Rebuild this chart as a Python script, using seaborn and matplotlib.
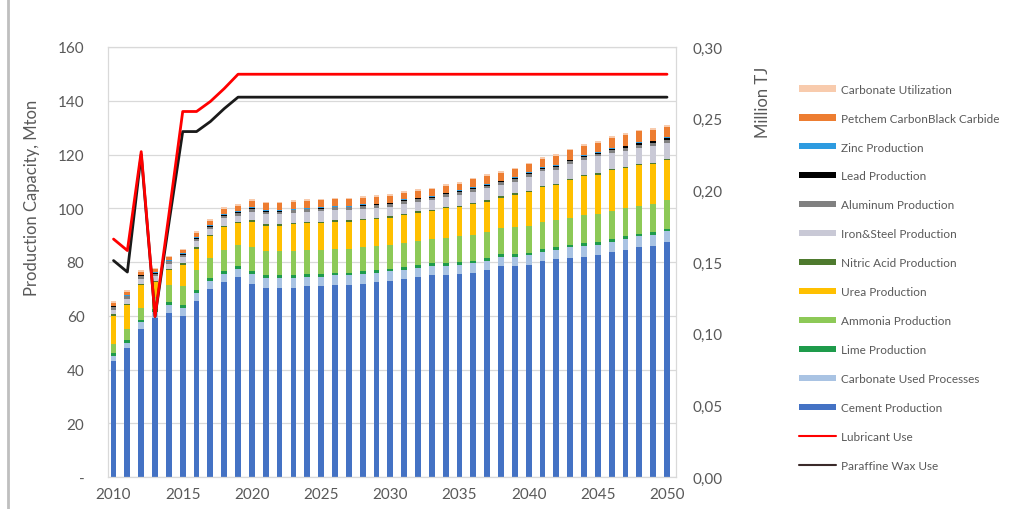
import numpy as np
import matplotlib
matplotlib.use("Agg")
import matplotlib.pyplot as plt
import seaborn as sns
from matplotlib.patches import Patch
from matplotlib.lines import Line2D
from matplotlib.ticker import FuncFormatter, MultipleLocator

# ============================
# DATA
# ============================
years = list(range(2010, 2051))

# stacked bars (Mton), bottom -> top
cement = [43, 48, 55, 59, 61, 60, 65.5, 70, 72.5, 74.5,
          72, 70.5, 70.5, 70.5, 71, 71, 71.5, 71.5, 72, 72.5,
          73, 73.5, 74.4, 75, 75, 75.5, 76, 77, 78.5, 78.5,
          79, 80.3, 81, 81.5, 82, 82.5, 83.6, 84.5, 85.5, 86, 87.4]
carbonate_used = [2, 2, 2.5, 2.5, 3, 3, 3, 3, 3, 3,
                  3.5, 3.5, 3.5, 3.5, 3.5, 3.5, 3.5, 3.5, 3.5, 3.5,
                  3.5, 3.5, 3.5, 3.5, 3.5, 3.5, 3.5, 3.5, 3.5, 3.5,
                  3.5, 3.5, 3.5, 4, 4, 4, 4, 4, 4, 4, 4]
lime = [1, 1, 1, 1, 1, 1, 1, 1, 1, 1,
        1, 1, 1, 1, 1, 1, 1, 1, 1, 1,
        1, 1, 1, 1, 1, 1, 1, 1, 1, 1,
        1, 1, 1, 1, 1, 1, 1, 1, 1, 1, 1]
ammonia = [3.5, 4, 4.5, 4.5, 6.5, 7, 7.5, 7.5, 8, 8,
           9, 9, 9, 9, 9, 9, 9, 9, 9, 9,
           9, 9, 9, 9, 9.5, 9.5, 9.5, 9.5, 9.5, 10,
           10, 10, 10, 10, 10.5, 10.5, 10.5, 10.5, 10.5, 10.5, 10.5]
urea = [10.5, 9, 8.5, 5.5, 5.5, 8, 8, 8, 8.5, 8,
        9.5, 9.5, 9.5, 10, 10, 10, 10, 10, 10, 10,
        10, 10.5, 10.5, 10.5, 11, 11, 11.5, 11.5, 11.5, 12,
        12.5, 13, 13, 14, 14.5, 14.5, 15, 15, 15, 15, 15]
nitric_acid = [0.5, 0.5, 0.5, 0.5, 0.5, 0.5, 0.5, 0.5, 0.5, 0.5,
               0.5, 0.5, 0.5, 0.5, 0.5, 0.5, 0.5, 0.5, 0.5, 0.5,
               0.5, 0.5, 0.5, 0.5, 0.5, 0.5, 0.5, 0.5, 0.5, 0.5,
               0.5, 0.5, 0.5, 0.5, 0.5, 0.5, 0.5, 0.5, 0.5, 0.5, 0.5]
iron_steel = [1.7, 1.7, 1.7, 1.7, 1.7, 2.2, 2.2, 2.2, 2.7, 2.2,
              3.2, 3.7, 3.7, 3.7, 3.6, 3.9, 3.8, 3.8, 3.9, 3.6,
              3.5, 3.7, 3.5, 3.5, 3.7, 4.1, 4.2, 4.4, 4.2, 4.4,
              5.3, 5.4, 5.4, 5.5, 5.6, 6.3, 6.1, 5.8, 6.1, 6.2, 6]
aluminum = [1, 1, 1, 1, 1, 1, 1, 1, 1, 1,
            1, 1, 1, 1, 1, 1, 1, 1, 1, 1,
            1, 1, 1, 1, 1, 1, 1, 1, 1, 1,
            1, 1, 1, 1, 1, 1, 1, 1, 1, 1, 1]
lead = [0.3, 0.3, 0.3, 0.3, 0.3, 0.3, 0.3, 0.3, 0.3, 0.3,
        0.3, 0.3, 0.3, 0.3, 0.3, 0.3, 0.3, 0.3, 0.3, 0.3,
        0.3, 0.3, 0.3, 0.3, 0.3, 0.3, 0.3, 0.3, 0.3, 0.3,
        0.3, 0.3, 0.3, 0.3, 0.3, 0.3, 0.3, 0.7, 0.7, 0.7, 0.7]
zinc = [0.3, 0.3, 0.3, 0.3, 0.3, 0.3, 0.3, 0.3, 0.3, 0.3,
        0.3, 0.3, 0.3, 0.3, 0.3, 0.3, 0.3, 0.3, 0.3, 0.3,
        0.3, 0.3, 0.3, 0.3, 0.3, 0.3, 0.3, 0.3, 0.3, 0.3,
        0.3, 0.3, 0.3, 0.3, 0.3, 0.3, 0.3, 0.3, 0.3, 0.3, 0.3]
petchem = [1, 1, 1, 1, 1, 1, 1.5, 1.5, 2, 2,
           2.5, 2.5, 2.5, 2.5, 2.5, 2.5, 2.5, 2.5, 2.5, 2.5,
           2.5, 2.5, 2.5, 2.5, 2.5, 2.5, 3, 3, 3, 3,
           3, 3, 3.5, 3.5, 3.5, 3.5, 4, 4, 4, 4, 4]
carbonate_util = [0.6, 0.6, 0.6, 0.6, 0.6, 0.6, 0.6, 0.6, 0.6, 0.6,
                  0.6, 0.6, 0.6, 0.6, 0.6, 0.6, 0.6, 0.6, 0.6, 0.6,
                  0.6, 0.6, 0.6, 0.6, 0.6, 0.6, 0.6, 0.6, 0.6, 0.6,
                  0.6, 0.6, 0.6, 0.6, 0.6, 0.6, 0.6, 0.6, 0.6, 0.6, 0.6]

# lines (Million TJ, right axis)
lubricant = [0.166, 0.158, 0.227, 0.112, 0.183, 0.255, 0.255, 0.262, 0.271, 0.281,
             0.281, 0.281, 0.281, 0.281, 0.281, 0.281, 0.281, 0.281, 0.281, 0.281,
             0.281, 0.281, 0.281, 0.281, 0.281, 0.281, 0.281, 0.281, 0.281, 0.281,
             0.281, 0.281, 0.281, 0.281, 0.281, 0.281, 0.281, 0.281, 0.281, 0.281, 0.281]
paraffine = [0.151, 0.143, 0.225, 0.112, 0.177, 0.241, 0.241, 0.248, 0.257, 0.265,
             0.265, 0.265, 0.265, 0.265, 0.265, 0.265, 0.265, 0.265, 0.265, 0.265,
             0.265, 0.265, 0.265, 0.265, 0.265, 0.265, 0.265, 0.265, 0.265, 0.265,
             0.265, 0.265, 0.265, 0.265, 0.265, 0.265, 0.265, 0.265, 0.265, 0.265, 0.265]

layers = [cement, carbonate_used, lime, ammonia, urea, nitric_acid,
          iron_steel, aluminum, lead, zinc, petchem, carbonate_util]
labels = ["Cement Production", "Carbonate Used Processes", "Lime Production",
          "Ammonia Production", "Urea Production", "Nitric Acid Production",
          "Iron&Steel Production", "Aluminum Production", "Lead Production",
          "Zinc Production", "Petchem CarbonBlack Carbide", "Carbonate Utilization"]
colors = ["#4472C4", "#A9C3E3", "#1E9B4B", "#8DC957", "#FFC000", "#4E7A2E",
          "#C9C9D6", "#808080", "#000000", "#2E9BE0", "#ED7D31", "#F8CBAD"]

# ============================
# FIGURE
# ============================
sns.set_style("white")
plt.rcParams["font.family"] = ["Lato", "DejaVu Sans"]
grey = "#595959"

fig = plt.figure(figsize=(10.31, 5.10), dpi=100)
ax = fig.add_axes([108 / 1031, 1 - 478 / 510, 568 / 1031, 430 / 510])

# stacked bars: draw cumulative totals from top down
cum = np.cumsum(np.array(layers, dtype=float), axis=0)
for i in range(len(layers) - 1, -1, -1):
    sns.barplot(x=years, y=cum[i], native_scale=True, color=colors[i],
                saturation=1, width=0.42, linewidth=0, errorbar=None, ax=ax)

ax.set_xlim(2009.6, 2050.65)
ax.set_ylim(0, 160)
ax.yaxis.set_major_locator(MultipleLocator(20))
ax.set_xticks(range(2010, 2051, 5))
ax.yaxis.set_major_formatter(FuncFormatter(lambda v, p: "-" if v == 0 else f"{v:.0f}"))
ax.grid(axis="y", color="#D9D9D9", linewidth=0.9)
ax.set_axisbelow(True)
for s in ax.spines.values():
    s.set_color("#D9D9D9")
    s.set_linewidth(0.9)
ax.tick_params(axis="y", length=0, pad=17, labelsize=11, labelcolor=grey)
ax.tick_params(axis="x", length=0, pad=7, labelsize=11, labelcolor=grey)
ax.set_xlabel("")
ax.set_ylabel("")

# lines on secondary axis
ax2 = ax.twinx()
sns.lineplot(x=years, y=paraffine, color="#1A1A1A", linewidth=2, ax=ax2)
sns.lineplot(x=years, y=lubricant, color="#FF0000", linewidth=2, ax=ax2)
ax2.set_ylim(0, 0.30)
ax2.yaxis.set_major_locator(MultipleLocator(0.05))
ax2.yaxis.set_major_formatter(FuncFormatter(lambda v, p: f"{v:.2f}".replace(".", ",")))
ax2.tick_params(axis="y", length=0, pad=12, labelsize=11, labelcolor=grey)
for s in ax2.spines.values():
    s.set_visible(False)
ax2.set_ylabel("")

fig.text(32 / 1031, 1 - 198 / 510, "Production Capacity, Mton", rotation=90,
         ha="center", va="center", fontsize=12, color=grey)
fig.text(763 / 1031, 1 - 102 / 510, "Million TJ", rotation=90,
         ha="center", va="center", fontsize=12, color=grey)

# legend
handles = [Patch(facecolor=c, edgecolor="none") for c in colors[::-1]]
handles += [Line2D([], [], color="#FF0000", linewidth=1.5),
            Line2D([], [], color="#3A2A2A", linewidth=1.5)]
leg_labels = labels[::-1] + ["Lubricant Use", "Paraffine Wax Use"]
fig.legend(handles, leg_labels, loc="upper left", bbox_to_anchor=(788 / 1031, 1 - 74 / 510),
           frameon=False, fontsize=8.5, labelcolor=grey, handlelength=3.2,
           handleheight=0.45, handletextpad=0.4, labelspacing=1.52)

# thin border at far left
fig.add_artist(Line2D([8 / 1031, 8 / 1031], [0, 1], color="#BFBFBF", linewidth=2))

fig.savefig("out.png", dpi=100)
